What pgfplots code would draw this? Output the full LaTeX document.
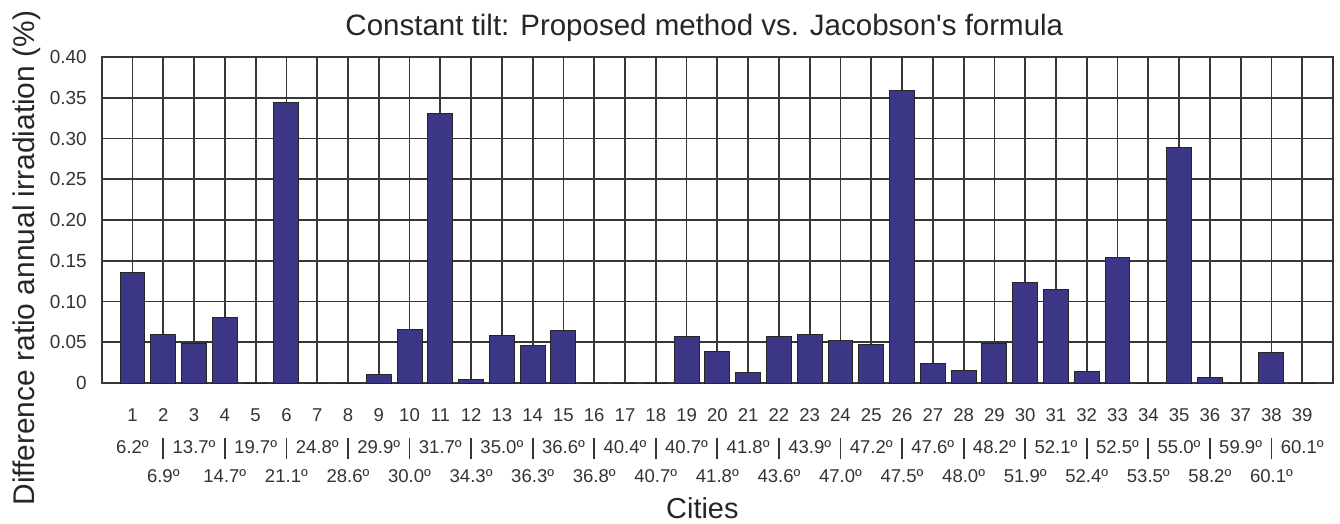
\documentclass[border=0pt]{standalone}
\usepackage{fontspec}
\setmainfont{Liberation Sans}
\usepackage{pgfplots}
\pgfplotsset{compat=1.18}
\definecolor{barblue}{RGB}{59,54,133}
\definecolor{gridgray}{RGB}{55,55,55}
\newcommand{\sep}{\textcolor{gridgray}{\rule[-2.5bp]{0.9bp}{10.5bp}}}
\begin{document}
\begin{tikzpicture}
\begin{axis}[
  at={(0,0)}, anchor=south west,
  scale only axis, width=615.5bp, height=163bp,
  clip=false,
  xmin=0, xmax=40, ymin=0, ymax=0.4,
  xtick={1,...,39},
  ytick={0,0.05,0.1,0.15,0.2,0.25,0.3,0.35,0.4},
  yticklabels={0,0.05,0.10,0.15,0.20,0.25,0.30,0.35,0.40},
  xticklabels={
    {1\\[2bp]6.2º},{2\\[2bp]\sep\\6.9º},
    {3\\[2bp]13.7º},{4\\[2bp]\sep\\14.7º},
    {5\\[2bp]19.7º},{6\\[2bp]\sep\\21.1º},
    {7\\[2bp]24.8º},{8\\[2bp]\sep\\28.6º},
    {9\\[2bp]29.9º},{10\\[2bp]\sep\\30.0º},
    {11\\[2bp]31.7º},{12\\[2bp]\sep\\34.3º},
    {13\\[2bp]35.0º},{14\\[2bp]\sep\\36.3º},
    {15\\[2bp]36.6º},{16\\[2bp]\sep\\36.8º},
    {17\\[2bp]40.4º},{18\\[2bp]\sep\\40.7º},
    {19\\[2bp]40.7º},{20\\[2bp]\sep\\41.8º},
    {21\\[2bp]41.8º},{22\\[2bp]\sep\\43.6º},
    {23\\[2bp]43.9º},{24\\[2bp]\sep\\47.0º},
    {25\\[2bp]47.2º},{26\\[2bp]\sep\\47.5º},
    {27\\[2bp]47.6º},{28\\[2bp]\sep\\48.0º},
    {29\\[2bp]48.2º},{30\\[2bp]\sep\\51.9º},
    {31\\[2bp]52.1º},{32\\[2bp]\sep\\52.4º},
    {33\\[2bp]52.5º},{34\\[2bp]\sep\\53.5º},
    {35\\[2bp]55.0º},{36\\[2bp]\sep\\58.2º},
    {37\\[2bp]59.9º},{38\\[2bp]\sep\\60.1º},
    {39\\[2bp]60.1º}},
  xticklabel style={anchor=north, inner sep=0pt, yshift=-12.4bp, align=center,
    font=\fontsize{9.3}{14.4}\selectfont, text=black!80},
  yticklabel style={anchor=east, inner sep=0pt, xshift=-7.3bp,
    font=\fontsize{9.5}{11}\selectfont, text=black!80},
  major tick length=0pt,
  grid=major,
  major grid style={draw=gridgray, line width=0.9bp},
  axis line style={draw=gridgray, line width=1bp},
  title={Constant tilt: Proposed method vs. Jacobson\textquotesingle s formula},
  title style={at={(rel axis cs:0.5,1)}, anchor=base, yshift=5bp, xshift=-6.5bp,
    font=\fontsize{14.8}{17}\selectfont, text=black!85},
  xlabel={Cities},
  xlabel style={at={(rel axis cs:0.5,0)}, anchor=base, yshift=-67.5bp, xshift=-7.5bp,
    font=\fontsize{14.5}{17}\selectfont, text=black!85},
]
\addplot[ybar, bar width=0.81, fill=barblue, draw=black!85, line width=0.5bp]
coordinates {
(1,0.136) (2,0.059) (3,0.048) (4,0.081) (5,0) (6,0.344) (7,0) (8,0)
(9,0.011) (10,0.066) (11,0.331) (12,0.005) (13,0.058) (14,0.046) (15,0.064)
(16,0) (17,0) (18,0) (19,0.057) (20,0.039) (21,0.013) (22,0.057) (23,0.059)
(24,0.052) (25,0.047) (26,0.359) (27,0.024) (28,0.015) (29,0.049) (30,0.124)
(31,0.115) (32,0.014) (33,0.154) (34,0) (35,0.289) (36,0.0065) (37,0)
(38,0.038) (39,0)
};
\node[rotate=90, anchor=base, font=\fontsize{15}{17}\selectfont, text=black!85]
  at ([xshift=-33.4bp]rel axis cs:0,0.383) {Difference ratio annual irradiation (\%)};
\end{axis}
\pgfresetboundingbox
\path[use as bounding box] (-50.85bp,-70bp) rectangle (619bp,191.5bp);
\end{tikzpicture}
\end{document}
